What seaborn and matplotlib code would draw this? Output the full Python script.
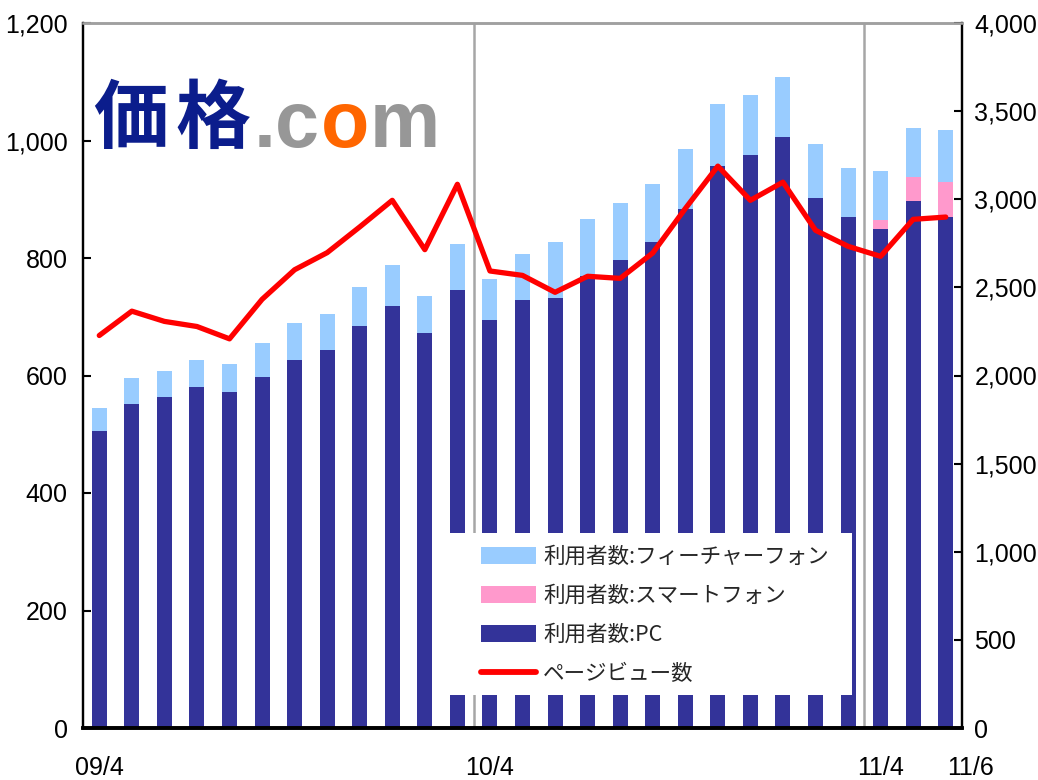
import numpy as np
import pandas as pd
import matplotlib
matplotlib.use("Agg")
import matplotlib.pyplot as plt
import seaborn as sns
from matplotlib.ticker import FuncFormatter, MultipleLocator
from matplotlib.patches import Rectangle, Patch
from matplotlib.lines import Line2D
import matplotlib.transforms as mtransforms

# ---------------- data ----------------
months = ["09/4", "09/5", "09/6", "09/7", "09/8", "09/9", "09/10", "09/11", "09/12",
          "10/1", "10/2", "10/3", "10/4", "10/5", "10/6", "10/7", "10/8", "10/9",
          "10/10", "10/11", "10/12", "11/1", "11/2", "11/3", "11/4", "11/5", "11/6"]
pc = [506, 552, 563, 580, 572, 598, 626, 644, 685, 718, 672, 745, 694, 728, 732,
      769, 796, 828, 883, 956, 975, 1006, 902, 869, 850, 897, 869]
smartphone = [0, 0, 0, 0, 0, 0, 0, 0, 0, 0, 0, 0, 0, 0, 0, 0, 0, 0, 0, 0, 0, 0, 0, 0,
              14, 41, 60]
featurephone = [38, 43, 45, 46, 47, 57, 64, 60, 65, 70, 64, 78, 70, 78, 96, 97, 97,
                98, 102, 106, 102, 102, 92, 84, 84, 84, 89]
pageviews = [2227, 2365, 2307, 2278, 2208, 2432, 2600, 2697, 2843, 2994, 2714, 3085,
             2593, 2568, 2472, 2563, 2551, 2695, 2947, 3188, 2994, 3097, 2824, 2733,
             2676, 2886, 2899]
tick_months = ["09/4", "10/4", "11/4", "11/6"]
legend_labels = ["利用者数:フィーチャーフォン", "利用者数:スマートフォン", "利用者数:PC", "ページビュー数"]

# ---------------- style ----------------
sns.set_style("white")
plt.rcParams["font.family"] = ["Liberation Sans", "Noto Sans CJK JP", "DejaVu Sans"]

C_PC = "#333399"
C_SP = "#FF99CC"
C_FP = "#99CCFF"
C_PV = "#FF0000"

df = pd.DataFrame({"idx": np.arange(len(months)), "month": months, "pc": pc,
                   "smart": smartphone, "feature": featurephone, "pv": pageviews})
df["pc_smart"] = df["pc"] + df["smart"]
df["total"] = df["pc_smart"] + df["feature"]

fig = plt.figure(figsize=(10.38, 7.8), dpi=100)
ax = fig.add_axes([83 / 1038, 1 - 728 / 780, (962 - 83) / 1038, (728 - 23) / 780])

for col, c in [("total", C_FP), ("pc_smart", C_SP), ("pc", C_PC)]:
    sns.barplot(data=df, x="idx", y=col, color=c, width=0.46, saturation=1,
                errorbar=None, ax=ax, zorder=2, linewidth=0, edgecolor="none")

for xv in [11.5, 23.5]:
    ax.axvline(xv, color="#a6a6a6", lw=1.8, zorder=1)

ax.set_xlim(-0.5, len(months) - 0.5)
ax.set_ylim(0, 1200)
ax.yaxis.set_major_locator(MultipleLocator(200))
ax.yaxis.set_major_formatter(FuncFormatter(lambda v, p: f"{int(v):,}"))
ax.set_xlabel("")
ax.set_ylabel("")

ax2 = ax.twinx()
sns.lineplot(x=df["idx"].to_numpy(), y=df["pv"].to_numpy(), color=C_PV, lw=3.8,
             ax=ax2, zorder=3)
ax2.set_ylim(0, 4000)
ax2.yaxis.set_major_locator(MultipleLocator(500))
ax2.yaxis.set_major_formatter(FuncFormatter(lambda v, p: f"{int(v):,}"))
ax2.set_ylabel("")
ax2.set_xlim(-0.5, len(months) - 0.5)

tick_pos = [months.index(m) for m in tick_months]
ax.set_xticks(tick_pos)
ax.set_xticklabels(tick_months)

for a in (ax, ax2):
    for s in ["left", "right", "bottom"]:
        a.spines[s].set_color("black")
    a.spines["left"].set_linewidth(1.6)
    a.spines["right"].set_linewidth(1.6)
    a.spines["bottom"].set_linewidth(2.6)
    a.spines["top"].set_color("#a0a0a0")
    a.spines["top"].set_linewidth(1.8)
    a.spines["left"].set_visible(True)
    a.spines["right"].set_visible(True)

ax.tick_params(axis="y", direction="in", length=6, width=1.5, pad=11,
               labelsize=18, colors="black", left=True)
ax.tick_params(axis="x", length=0, pad=20, labelsize=18, colors="black")
ax2.tick_params(axis="y", direction="in", length=6, width=1.5, pad=9,
                labelsize=18, colors="black", right=True)

# shift the last month label a bit to the right, as in the reference
lbls = ax.get_xticklabels()
lbls[-1].set_transform(lbls[-1].get_transform() +
                       mtransforms.ScaledTranslation(0.25, 0, fig.dpi_scale_trans))

# legend on a white block covering the bars
ax2.add_patch(Rectangle((0.414, 0.047), 0.461, 0.230, transform=ax2.transAxes,
                        facecolor="white", edgecolor="none", zorder=5))
handles = [Patch(facecolor=C_FP, edgecolor="none"),
           Patch(facecolor=C_SP, edgecolor="none"),
           Patch(facecolor=C_PC, edgecolor="none"),
           Line2D([], [], color=C_PV, lw=4.2)]
leg = ax2.legend(handles, legend_labels, loc="upper left",
                 bbox_to_anchor=(0.4525, 0.258), frameon=False, borderpad=0,
                 borderaxespad=0, handlelength=2.55, handleheight=0.82,
                 handletextpad=0.35, labelspacing=0.79,
                 prop={"size": 15.5, "family": ["Noto Sans CJK JP", "DejaVu Sans"]})
leg.set_zorder(6)

# logo text
for ch, x0 in [("価", 93), ("格", 175)]:
    fig.text(x0 / 1038, 1 - 142 / 780, ch, fontsize=54, fontweight="bold",
             color="#0b1d8c", family=["Noto Sans CJK JP"], ha="left", va="baseline")
for ch, x0, c in [(".c", 254, "#979797"), ("o", 321, "#FF6600"), ("m", 370, "#979797")]:
    fig.text(x0 / 1038, 1 - 147 / 780, ch, fontsize=57, fontweight="bold", color=c,
             family=["Liberation Sans", "DejaVu Sans"], ha="left", va="baseline")

fig.savefig("out.png", dpi=100)
